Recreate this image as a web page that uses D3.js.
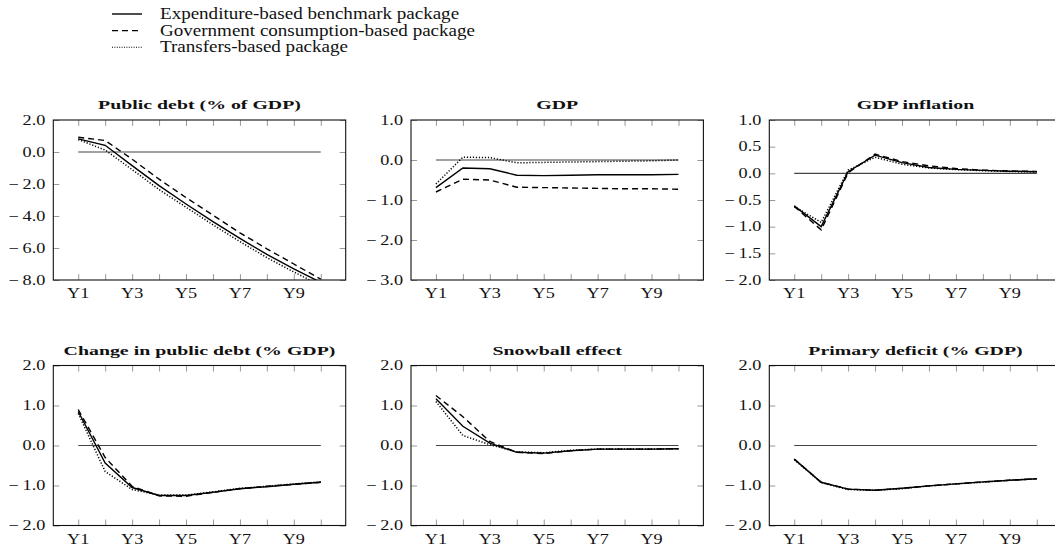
<!DOCTYPE html>
<html>
<head>
<meta charset="utf-8">
<script src="https://cdn.jsdelivr.net/npm/d3@7"></script>
<style>
  html, body { margin: 0; padding: 0; background: #fff; }
  svg { display: block; font-family: "Liberation Serif", "Times New Roman", serif; }
</style>
</head>
<body>
<svg id="chart" width="1055" height="552"></svg>
<script>
// Years on the horizontal axis and the labelled subset
const years = [1, 2, 3, 4, 5, 6, 7, 8, 9, 10];
const xTickLabels = ["Y1", "Y3", "Y5", "Y7", "Y9"];
const xTickYears = [1, 3, 5, 7, 9];

// Scenario names (legend)
const seriesNames = [
  "Expenditure-based benchmark package",
  "Government consumption-based package",
  "Transfers-based package"
];

// Panel titles
const panelTitles = [
  "Public debt (% of GDP)",
  "GDP",
  "GDP inflation",
  "Change in public debt (% GDP)",
  "Snowball effect",
  "Primary deficit (% GDP)"
];

// Vertical axis ranges and tick values per panel
const yDomains = [[-8, 2], [-3, 1], [-2, 1], [-2, 2], [-2, 2], [-2, 2]];
const yTicks = [
  [2, 0, -2, -4, -6, -8],
  [1, 0, -1, -2, -3],
  [1, 0.5, 0, -0.5, -1, -1.5, -2],
  [2, 1, 0, -1, -2],
  [2, 1, 0, -1, -2],
  [2, 1, 0, -1, -2]
];

// Public debt (% of GDP)
const debtBenchmark = [0.82, 0.42, -0.85, -2.1, -3.25, -4.35, -5.4, -6.4, -7.3, -8.15];
const debtConsumption = [0.92, 0.72, -0.45, -1.7, -2.85, -3.95, -5.05, -6.05, -7.0, -7.95];
const debtTransfers = [0.78, 0.12, -1.1, -2.35, -3.45, -4.55, -5.6, -6.6, -7.5, -8.35];

// GDP
const gdpBenchmark = [-0.69, -0.2, -0.22, -0.38, -0.39, -0.38, -0.37, -0.37, -0.37, -0.36];
const gdpConsumption = [-0.8, -0.48, -0.5, -0.68, -0.69, -0.7, -0.71, -0.72, -0.72, -0.73];
const gdpTransfers = [-0.6, 0.07, 0.06, -0.07, -0.06, -0.05, -0.04, -0.03, -0.02, 0.0];

// GDP inflation
const inflBenchmark = [-0.61, -1.0, 0.03, 0.34, 0.2, 0.11, 0.075, 0.055, 0.04, 0.03];
const inflConsumption = [-0.62, -1.06, 0.01, 0.36, 0.22, 0.14, 0.09, 0.06, 0.045, 0.035];
const inflTransfers = [-0.62, -0.92, 0.06, 0.3, 0.17, 0.1, 0.07, 0.05, 0.035, 0.025];

// Change in public debt (% GDP)
const changeBenchmark = [0.85, -0.44, -1.05, -1.25, -1.25, -1.17, -1.08, -1.03, -0.97, -0.92];
const changeConsumption = [0.9, -0.3, -1.02, -1.26, -1.27, -1.17, -1.08, -1.02, -0.97, -0.92];
const changeTransfers = [0.8, -0.65, -1.1, -1.24, -1.24, -1.16, -1.07, -1.02, -0.96, -0.91];

// Snowball effect
const snowBenchmark = [1.17, 0.48, 0.06, -0.17, -0.19, -0.13, -0.09, -0.09, -0.09, -0.08];
const snowConsumption = [1.25, 0.72, 0.1, -0.17, -0.2, -0.13, -0.09, -0.09, -0.09, -0.08];
const snowTransfers = [1.1, 0.25, 0.02, -0.16, -0.18, -0.12, -0.09, -0.09, -0.09, -0.08];

// Primary deficit (% GDP)
const deficitBenchmark = [-0.34, -0.92, -1.09, -1.12, -1.07, -1.01, -0.96, -0.91, -0.87, -0.83];
const deficitConsumption = [-0.34, -0.92, -1.09, -1.12, -1.07, -1.01, -0.96, -0.91, -0.87, -0.83];
const deficitTransfers = [-0.35, -0.93, -1.1, -1.12, -1.08, -1.01, -0.96, -0.92, -0.87, -0.83];

const panelSeries = [
  [debtBenchmark, debtConsumption, debtTransfers],
  [gdpBenchmark, gdpConsumption, gdpTransfers],
  [inflBenchmark, inflConsumption, inflTransfers],
  [changeBenchmark, changeConsumption, changeTransfers],
  [snowBenchmark, snowConsumption, snowTransfers],
  [deficitBenchmark, deficitConsumption, deficitTransfers]
];

// Line styles for the three scenarios
const dashStyles = [null, "6,4", "1.2,1.8"];
const strokeWidths = [1.4, 1.4, 1.5];

const svg = d3.select("#chart");

// Text placed with a horizontal stretch (wide book-style lettering)
function stretchedText(parent, x, y, sx, str) {
  return parent.append("text")
    .attr("transform", `translate(${x},${y}) scale(${sx},1)`)
    .text(str);
}

// ---- Legend ----
const legend = svg.append("g");
seriesNames.forEach((name, i) => {
  const y = 19 + i * 16.6;
  legend.append("line")
    .attr("x1", 112).attr("x2", 142)
    .attr("y1", y - 5).attr("y2", y - 5)
    .attr("stroke", "#000")
    .attr("stroke-width", i === 2 ? 1.1 : 1.4)
    .attr("stroke-dasharray", i === 2 ? "1,1.4" : dashStyles[i]);
  stretchedText(legend, 160, y, 1.19, name)
    .attr("font-size", 16)
    .attr("fill", "#111");
});

// ---- Panels ----
const colLeft = [53.3, 411, 769.3];
const rowTop = [120, 365.5];
const panelW = 292.4, panelH = 160;
const tickLen = 6;
const tickColor = "#9a9a9a";

const fmt = v => {
  const s = Math.abs(v).toFixed(1);
  return v < 0 ? "\u2212\u2009" + s : s;
};

panelTitles.forEach((title, p) => {
  const left = colLeft[p % 3];
  const top = rowTop[Math.floor(p / 3)];
  const g = svg.append("g").attr("transform", `translate(${left},${top})`);

  const x = d3.scaleLinear().domain([1 - 0.925, 10 + 0.925]).range([0, panelW]);
  const y = d3.scaleLinear().domain(yDomains[p]).range([panelH, 0]);

  const clipId = "clip" + p;
  g.append("clipPath").attr("id", clipId)
    .append("rect").attr("width", panelW).attr("height", panelH);

  // Inward ticks on all four sides
  const axisBottom = d3.axisBottom(x).tickValues(years).tickSize(-tickLen).tickFormat("");
  const axisTop = d3.axisTop(x).tickValues(years).tickSize(-tickLen).tickFormat("");
  const axisLeft = d3.axisLeft(y).tickValues(yTicks[p]).tickSize(-tickLen).tickFormat("");
  const axisRight = d3.axisRight(y).tickValues(yTicks[p]).tickSize(-tickLen).tickFormat("");

  [[axisBottom, `translate(0,${panelH})`], [axisTop, "translate(0,0)"],
   [axisLeft, "translate(0,0)"], [axisRight, `translate(${panelW},0)`]].forEach(([ax, tr]) => {
    const a = g.append("g").attr("transform", tr).call(ax);
    a.select(".domain").remove();
    a.selectAll(".tick line").attr("stroke", tickColor).attr("stroke-width", 1);
  });

  // Tick labels
  const yl = g.append("g").attr("font-size", 14).attr("fill", "#111").attr("text-anchor", "end");
  yTicks[p].forEach(v => {
    stretchedText(yl, -8, y(v) + 4.5, 1.3, fmt(v));
  });

  const xl = g.append("g").attr("font-size", 14).attr("fill", "#111").attr("text-anchor", "middle");
  xTickYears.forEach((d, i) => {
    stretchedText(xl, x(d), panelH + 18, 1.3, xTickLabels[i]);
  });

  // Zero reference line
  g.append("line")
    .attr("x1", x(1)).attr("x2", x(10))
    .attr("y1", y(0)).attr("y2", y(0))
    .attr("stroke", "#444").attr("stroke-width", 1.1);

  // Scenario lines
  const line = d3.line().x((d, i) => x(years[i])).y(d => y(d));
  const lines = g.append("g").attr("clip-path", `url(#${clipId})`);
  panelSeries[p].forEach((vals, s) => {
    lines.append("path")
      .datum(vals)
      .attr("d", line)
      .attr("fill", "none")
      .attr("stroke", "#000")
      .attr("stroke-width", strokeWidths[s])
      .attr("stroke-dasharray", dashStyles[s]);
  });

  // Frame
  g.append("rect")
    .attr("width", panelW).attr("height", panelH)
    .attr("fill", "none").attr("stroke", "#111").attr("stroke-width", 1.1);

  // Title
  stretchedText(g, panelW / 2, -11, 1.47, title)
    .attr("text-anchor", "middle")
    .attr("font-size", 13.5)
    .attr("font-weight", "bold")
    .attr("fill", "#111");
});
</script>
</body>
</html>
